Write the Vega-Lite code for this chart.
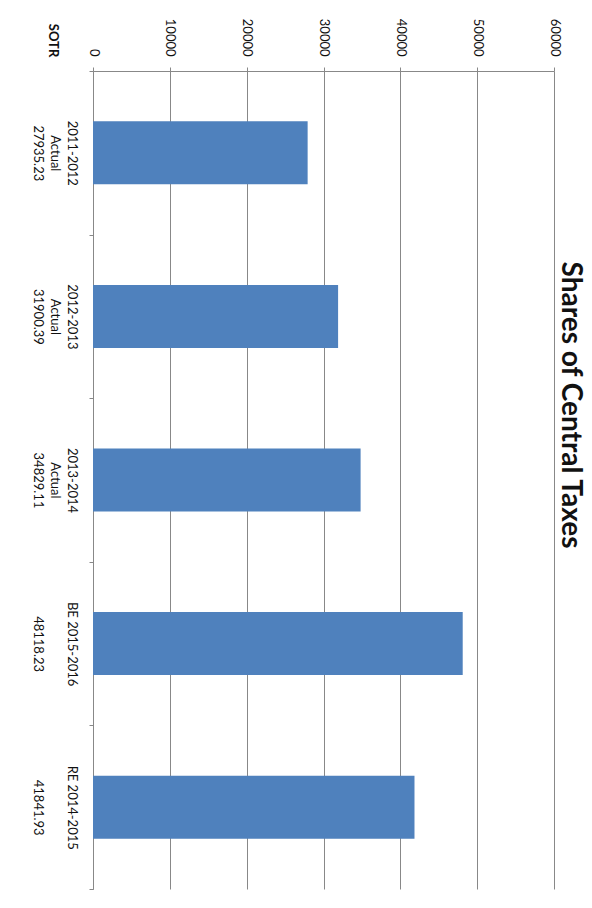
{
  "$schema": "https://vega.github.io/schema/vega-lite/v6.json",
  "width": 461,
  "height": 818,
  "padding": {"left": 29, "top": 18, "right": 0, "bottom": 5},
  "background": "white",
  "config": {"view": {"stroke": null}},
  "title": {
    "text": "Shares of Central Taxes",
    "orient": "right",
    "anchor": "middle",
    "angle": 90,
    "dx": -75,
    "offset": -4,
    "font": "Lato",
    "fontSize": 28,
    "fontWeight": "bold",
    "color": "#111111"
  },
  "data": {
    "values": [
      {"category": "2011-2012|Actual|27935.23", "value": 27935.23},
      {"category": "2012-2013|Actual|31900.39", "value": 31900.39},
      {"category": "2013-2014|Actual|34829.11", "value": 34829.11},
      {"category": "BE 2015-2016|\u200b|48118.23", "value": 48118.23},
      {"category": "RE 2014-2015|\u200b|41841.93", "value": 41841.93}
    ]
  },
  "mark": {"type": "bar", "color": "#4f81bd", "height": {"band": 0.385}},
  "encoding": {
    "y": {
      "field": "category",
      "type": "nominal",
      "sort": null,
      "scale": {"paddingInner": 0, "paddingOuter": 0},
      "axis": {
        "title": "SOTR",
        "titleAngle": 90,
        "titleX": -41,
        "titleY": -31,
        "titleAlign": "center",
        "titleBaseline": "middle",
        "titleFont": "Lato",
        "titleFontSize": 13,
        "titleFontWeight": "bold",
        "titleColor": "#111111",
        "labelExpr": "split(datum.label, '|')",
        "labelAngle": 90,
        "labelAlign": "center",
        "labelBaseline": "top",
        "labelPadding": 12,
        "labelLineHeight": 17,
        "labelFont": "Lato",
        "labelFontSize": 13,
        "labelColor": "#111111",
        "labelOverlap": false,
        "tickBand": "extent",
        "tickSize": 4,
        "tickColor": "#888888",
        "domainColor": "#888888",
        "grid": false
      }
    },
    "x": {
      "field": "value",
      "type": "quantitative",
      "scale": {"domain": [0, 60000], "nice": false},
      "axis": {
        "orient": "top",
        "title": null,
        "values": [0, 10000, 20000, 30000, 40000, 50000, 60000],
        "format": "d",
        "labelAngle": 90,
        "labelAlign": "right",
        "labelBaseline": "middle",
        "labelPadding": 11,
        "labelFlush": false,
        "labelBound": false,
        "labelOverlap": false,
        "labelFont": "Lato",
        "labelFontSize": 13,
        "labelColor": "#111111",
        "tickSize": 4,
        "tickColor": "#888888",
        "domainColor": "#888888",
        "grid": true,
        "gridColor": "#888888",
        "gridOpacity": 1
      }
    }
  }
}
